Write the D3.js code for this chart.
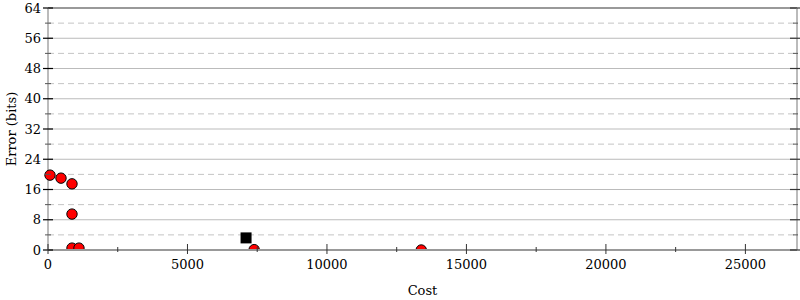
<!DOCTYPE html>
<html>
<head>
<meta charset="utf-8">
<script src="https://cdn.jsdelivr.net/npm/d3@7"></script>
<style>
  body { margin: 0; background: #fff; }
  text { font-family: "DejaVu Serif", serif; font-size: 13px; fill: #000; }
</style>
</head>
<body>
<svg id="chart" width="800" height="300"></svg>
<script>
// points
const costs  = [72, 466, 860, 860, 860, 1110, 7390, 13380];
const errors = [19.8, 19.0, 17.5, 9.5, 0.5, 0.5, 0.1, 0];
const bestCost = [7100];
const bestError = [3.2];

const xTicks = [0, 5000, 10000, 15000, 20000, 25000];
const xMinor = [2500, 7500, 12500, 17500, 22500];
const yTicks = [0, 8, 16, 24, 32, 40, 48, 56, 64];
const yMinor = [4, 12, 20, 28, 36, 44, 52, 60];

const margin = {top: 8, right: 3, bottom: 50, left: 48};
const width = 800 - margin.left - margin.right;
const height = 300 - margin.top - margin.bottom;

const svg = d3.select("#chart");
// only the bottom edge cuts the marks
svg.append("defs").append("clipPath").attr("id", "plot-clip")
  .append("rect").attr("x", -20).attr("y", -20).attr("width", width + 40).attr("height", height + 20);
const g = svg.append("g").attr("transform", "translate(" + margin.left + "," + margin.top + ")");

const x = d3.scaleLinear().domain([0, 26850]).range([0, width]);
const y = d3.scaleLinear().domain([0, 64]).range([height, 0]);

// grid lines
g.selectAll(".grid-major").data(yTicks.slice(1, -1)).enter().append("line")
  .attr("x1", 0).attr("x2", width)
  .attr("y1", d => y(d)).attr("y2", d => y(d))
  .attr("stroke", "#bbb").attr("stroke-width", 1);
g.selectAll(".grid-minor").data(yMinor).enter().append("line")
  .attr("x1", 0).attr("x2", width)
  .attr("y1", d => y(d)).attr("y2", d => y(d))
  .attr("stroke", "#c4c4c4").attr("stroke-width", 1)
  .attr("stroke-dasharray", "6,4");

// frame (left/right/top under the marks)
g.append("line").attr("x1", 0).attr("x2", width).attr("y1", y(64)).attr("y2", y(64))
  .attr("stroke", "#999").attr("stroke-width", 2);
g.append("line").attr("x1", 0).attr("x2", 0).attr("y1", 0).attr("y2", height)
  .attr("stroke", "#bbb").attr("stroke-width", 2);
g.append("line").attr("x1", width).attr("x2", width).attr("y1", 0).attr("y2", height)
  .attr("stroke", "#bbb").attr("stroke-width", 2);

// points
const marks = g.append("g").attr("clip-path", "url(#plot-clip)");
const pts = costs.map((c, i) => ({c: c, e: errors[i]}));
marks.selectAll(".pt").data(pts).enter().append("circle")
  .attr("cx", d => x(d.c)).attr("cy", d => y(d.e)).attr("r", 5.2)
  .attr("fill", "#ff0000").attr("stroke", "#000").attr("stroke-width", 1);

const best = bestCost.map((c, i) => ({c: c, e: bestError[i]}));
marks.selectAll(".best").data(best).enter().append("rect")
  .attr("x", d => x(d.c) - 5.5).attr("y", d => y(d.e) - 5.5)
  .attr("width", 11).attr("height", 11).attr("fill", "#000");

// bottom axis line
g.append("line").attr("x1", 0).attr("x2", width).attr("y1", y(0)).attr("y2", y(0))
  .attr("stroke", "#999").attr("stroke-width", 2);

// y ticks left
g.selectAll(".ytick").data(yTicks).enter().append("line")
  .attr("x1", -5).attr("x2", 5)
  .attr("y1", d => y(d)).attr("y2", d => y(d))
  .attr("stroke", "#000").attr("stroke-width", 1.2);
g.selectAll(".ytickm").data(yMinor).enter().append("line")
  .attr("x1", -3).attr("x2", 3)
  .attr("y1", d => y(d)).attr("y2", d => y(d))
  .attr("stroke", "#555").attr("stroke-width", 1);
// y ticks right
g.selectAll(".ytickr").data(yTicks).enter().append("line")
  .attr("x1", width - 7).attr("x2", width + 3)
  .attr("y1", d => y(d)).attr("y2", d => y(d))
  .attr("stroke", "#333").attr("stroke-width", 1.2);
g.selectAll(".ytickrm").data(yMinor).enter().append("line")
  .attr("x1", width - 4).attr("x2", width + 1)
  .attr("y1", d => y(d)).attr("y2", d => y(d))
  .attr("stroke", "#555").attr("stroke-width", 1);

g.selectAll(".ylabel").data(yTicks).enter().append("text")
  .attr("x", -7).attr("y", d => y(d)).attr("dy", "0.36em")
  .attr("text-anchor", "end").text(d => d);

// x ticks
g.selectAll(".xtick").data(xTicks).enter().append("line")
  .attr("x1", d => x(d)).attr("x2", d => x(d))
  .attr("y1", height - 6).attr("y2", height + 4)
  .attr("stroke", "#333").attr("stroke-width", 1);
g.selectAll(".xtickm").data(xMinor).enter().append("line")
  .attr("x1", d => x(d)).attr("x2", d => x(d))
  .attr("y1", height - 3).attr("y2", height + 2)
  .attr("stroke", "#333").attr("stroke-width", 1);
g.selectAll(".xlabel").data(xTicks).enter().append("text")
  .attr("x", d => x(d)).attr("y", height + 19)
  .attr("text-anchor", "middle").text(d => d);

// axis titles
svg.append("text").attr("x", margin.left + width / 2).attr("y", 295)
  .attr("text-anchor", "middle").text("Cost");
svg.append("text").attr("transform", "translate(16," + (margin.top + height / 2) + ") rotate(-90)")
  .attr("text-anchor", "middle").text("Error (bits)");
</script>
</body>
</html>
